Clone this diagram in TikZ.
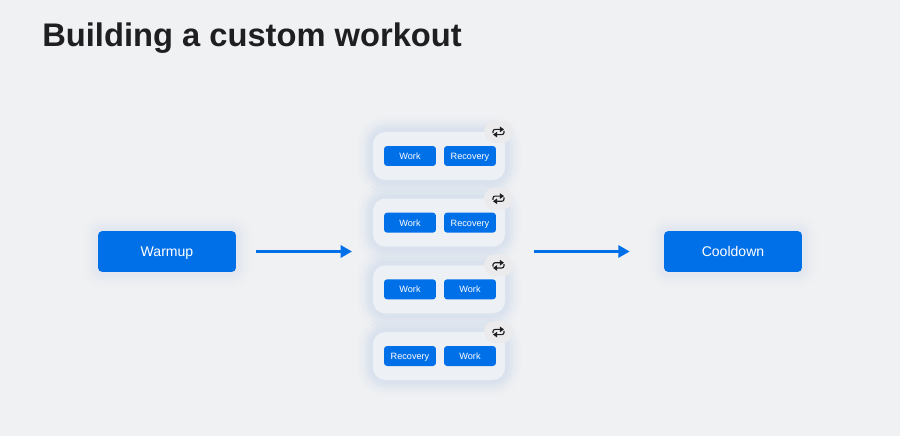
\documentclass[tikz,border=0pt]{standalone}
\usepackage{fontspec}
\setmainfont{Liberation Sans}
\usetikzlibrary{arrows.meta}

\definecolor{pagebg}{HTML}{F0F1F3}
\definecolor{cardbg}{HTML}{EDF0F5}
\definecolor{stepblue}{HTML}{0070E8}
\definecolor{glowblue}{HTML}{5E92E6}
\definecolor{badgebg}{HTML}{EBEBED}
\definecolor{titleink}{HTML}{1F1F21}

\begin{document}
\begin{tikzpicture}
	[   x=0.02cm,y=-0.02cm,
		glow/.style={preaction={draw=#1,opacity=.02,line width=18pt},
			preaction={draw=#1,opacity=.025,line width=14pt},
			preaction={draw=#1,opacity=.03,line width=10pt},
			preaction={draw=#1,opacity=.035,line width=7pt},
			preaction={draw=#1,opacity=.03,line width=4pt}},
		phase/.style={fill=stepblue,text=white,rounded corners=2.5pt,inner sep=0pt,
			minimum width=2.76cm,minimum height=0.82cm,text height=6.6pt,text depth=.8pt,
			font=\fontsize{8}{10}\selectfont},
		block/.style={fill=stepblue,text=white,rounded corners=1.8pt,inner sep=0pt,
			minimum width=1.04cm,minimum height=0.4cm,text height=4.4pt,text depth=.46pt,
			font=\fontsize{5.2}{7}\selectfont},
		card/.style={fill=cardbg,rounded corners=7pt,minimum width=2.64cm,minimum height=0.96cm,inner sep=0pt},
		badge/.style={fill=badgebg,rounded corners=6.2pt,minimum width=0.58cm,minimum height=0.44cm,inner sep=0pt},
		]
	\tikzset{flow arrow/.style={draw=stepblue,line width=1.4pt,-{Triangle[length=6.5pt,width=7pt]}}}
	\tikzset{loop arrow/.style={draw=titleink,line width=.65pt,rounded corners=1.2pt,-{Triangle[length=2.4pt,width=3.2pt]}}}
	\tikzset{repeat icon/.pic={
			\draw[loop arrow] (-5.5,1.2) -- (-5.5,-2.6) -- (5.5,-2.6);
			\draw[loop arrow] (5.5,-1.2) -- (5.5,2.6) -- (-5.5,2.6);
	}}
	
	\fill[pagebg] (0,0) rectangle (900,436);
	\node[anchor=base west,text=titleink,inner sep=0pt,font=\fontsize{18.6}{22}\selectfont\bfseries] (title) at (42,47) {Building a custom workout};
	
	\node[phase,glow=glowblue!60] (warmup) at (167,251.5) {Warmup};
	\node[phase,glow=glowblue!60] (cooldown) at (733,251.5) {Cooldown};
	
	\foreach \x/\first/\second in {1/Work/Recovery,2/Work/Recovery,3/Work/Work,4/Recovery/Work}
	{
		\node[card,glow=glowblue] (card-\x) at (439,{156+66.67*(\x-1)}) {};
		\node[block] (first-\x) at (410,{156+66.67*(\x-1)}) {\first};
		\node[block] (second-\x) at (470,{156+66.67*(\x-1)}) {\second};
		\node[badge] (badge-\x) at (498.5,{132+66.67*(\x-1)}) {};
		\pic at (badge-\x) {repeat icon};
	}
	
	\coordinate (in-end) at (352,251.5);
	\coordinate (out-start) at (534,251.5);
	\path[flow arrow,shorten <=0.4cm] (warmup.east) -- (in-end);
	\path[flow arrow,shorten >=0.68cm] (out-start) -- (cooldown.west);
\end{tikzpicture}
\end{document}
